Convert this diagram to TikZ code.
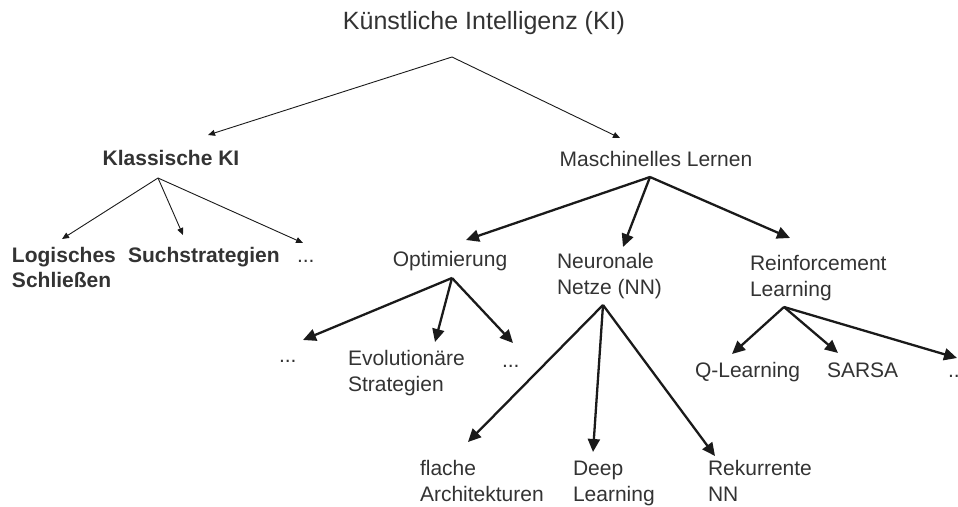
\documentclass[tikz,border=0pt]{standalone}
\usepackage{fontspec}
\setmainfont{Liberation Sans}
\usetikzlibrary{arrows.meta}
\definecolor{txt}{HTML}{333333}
\definecolor{ln}{HTML}{1A1A1A}
\begin{document}
\begin{tikzpicture}[x=1pt,y=-1pt,
  lbl/.style={inner sep=0pt, outer sep=0pt, text=txt, font=\fontsize{21}{26}\selectfont, align=left, anchor=base west},
  blbl/.style={lbl, font=\fontsize{21}{25}\selectfont\bfseries},
  ttl/.style={inner sep=0pt, text=txt, font=\fontsize{25}{30}\selectfont, anchor=base},
  thin/.style={draw=ln, line width=0.9pt, -{Triangle[length=7pt,width=6pt]}},
  thick/.style={draw=ln, line width=2.3pt, -{Triangle[length=13pt,width=12pt]}}]
\useasboundingbox (0,0) rectangle (958,506);
\clip (0,0) rectangle (958,506);
% texts (two-line nodes: base = baseline of last line)
\node[ttl] (ki) at (484,29) {Künstliche Intelligenz (KI)};
\node[blbl, anchor=base] (kk) at (171,165) {Klassische KI};
\node[lbl, anchor=base] (ml) at (656,166) {Maschinelles Lernen};
\node[blbl] (ls) at (12,287) {Logisches\\Schließen};
\node[blbl] (ss) at (128,262) {Suchstrategien};
\node[lbl] (kd) at (297,262) {...};
\node[lbl, anchor=base] (opt) at (450,266) {Optimierung};
\node[lbl] (nn) at (557,294) {Neuronale\\Netze (NN)};
\node[lbl] (rl) at (750,296) {Reinforcement\\Learning};
\node[lbl] (od1) at (279,362) {...};
\node[lbl] (es) at (348,391) {Evolutionäre\\Strategien};
\node[lbl] (od2) at (502,367) {...};
\node[lbl] (ql) at (695,377) {Q-Learning};
\node[lbl] (sa) at (827,377) {SARSA};
\node[lbl] (rd) at (948,377) {...};
\node[lbl] (fa) at (420,501) {flache\\Architekturen};
\node[lbl] (dl) at (573,501) {Deep\\Learning};
\node[lbl] (rn) at (708,501) {Rekurrente\\NN};
% connector points
\coordinate (kiO) at (452,57);
\coordinate (kkT) at (208,135);
\coordinate (mlT) at (620,138);
\coordinate (kkO) at (158,178);
\coordinate (lsT) at (62,239);
\coordinate (ssT) at (183,235);
\coordinate (kdT) at (303,243);
\coordinate (mlO) at (650,177);
\coordinate (optT) at (466,240);
\coordinate (nnT) at (623,247);
\coordinate (rlT) at (790,238);
\coordinate (optO) at (452,278);
\coordinate (od1T) at (303,340);
\coordinate (esT) at (435,342);
\coordinate (od2T) at (513,343);
\coordinate (nnO) at (603,305);
\coordinate (faT) at (468,442);
\coordinate (dlT) at (593,452);
\coordinate (rnT) at (715,456);
\coordinate (rlO) at (784,307);
\coordinate (qlT) at (732,354);
\coordinate (saT) at (838,353);
\coordinate (rdT) at (957,358);
% connectors
\draw[thin] (kiO) -- (kkT);
\draw[thin] (kiO) -- (mlT);
\draw[thin] (kkO) -- (lsT);
\draw[thin] (kkO) -- (ssT);
\draw[thin] (kkO) -- (kdT);
\draw[thick] (mlO) -- (optT);
\draw[thick] (mlO) -- (nnT);
\draw[thick] (mlO) -- (rlT);
\draw[thick] (optO) -- (od1T);
\draw[thick] (optO) -- (esT);
\draw[thick] (optO) -- (od2T);
\draw[thick] (nnO) -- (faT);
\draw[thick] (nnO) -- (dlT);
\draw[thick] (nnO) -- (rnT);
\draw[thick] (rlO) -- (qlT);
\draw[thick] (rlO) -- (saT);
\draw[thick] (rlO) -- (rdT);
\end{tikzpicture}
\end{document}
